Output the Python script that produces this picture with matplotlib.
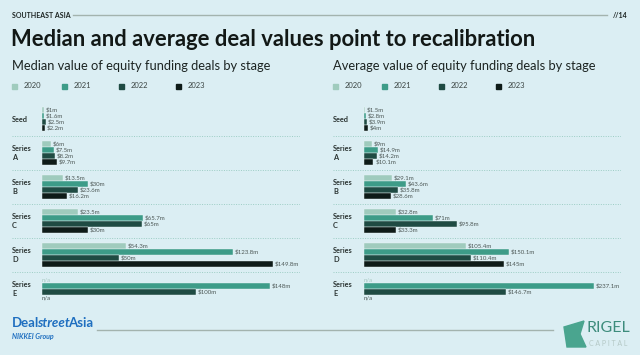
import matplotlib.pyplot as plt
from matplotlib.patches import Rectangle, Polygon

stages = ["Seed", "Series\nA", "Series\nB", "Series\nC", "Series\nD", "Series\nE"]
years = ["2020", "2021", "2022", "2023"]

# median deal value, $m (None = n/a)
median_2020 = [1, 6, 13.5, 23.5, 54.3, None]
median_2021 = [1.6, 7.5, 30, 65.7, 123.8, 148]
median_2022 = [2.5, 8.2, 23.6, 65, 50, 100]
median_2023 = [2.2, 9.7, 16.2, 30, 149.8, None]

# average deal value, $m
avg_2020 = [1.5, 9, 29.1, 32.8, 105.4, None]
avg_2021 = [2.8, 14.9, 43.6, 71, 150.1, 237.1]
avg_2022 = [3.9, 14.2, 35.8, 95.8, 110.4, 146.7]
avg_2023 = [4, 10.1, 28.6, 33.3, 145, None]

colors = ["#9fcbbd", "#3d9c88", "#1f4b43", "#0e1b18"]
bg = "#dbeef3"
W, H = 640, 355

plt.rcParams["font.family"] = ["Lato", "DejaVu Sans"]

fig = plt.figure(figsize=(6.4, 3.55), dpi=100, facecolor=bg)


def px(x, y):
    return x / W, 1 - y / H


def draw_panel(ax, series, xmin, xmax):
    ax.set_xlim(xmin, xmax)
    ax.set_ylim(5.6, -0.6)
    ax.axis("off")
    step = 0.176
    for j, vals in enumerate(series):
        for i, v in enumerate(vals):
            y = i + (j - 1.5) * step
            if v is None:
                c = "#a9c9c2" if j == 0 else "#4d5856"
                ax.text(0, y, "n/a", fontsize=4.4, color=c, va="center", ha="left")
                continue
            ax.barh(y, v, height=0.15, color=colors[j], edgecolor="#eaf5f7", linewidth=0.3)
            ax.annotate(f"${v:g}m", (v, y), xytext=(1.2, 0), textcoords="offset points",
                        fontsize=4.4, color="#4d5856", va="center", ha="left")
    for i, s in enumerate(stages):
        ax.text(xmin, i, s, fontsize=5.3, fontweight="bold", color="#2a3331",
                va="center", ha="left", linespacing=1.3)
    for i in range(len(stages) - 1):
        ax.axhline(i + 0.5, color="#9ccdc4", lw=0.7, ls=(0, (1, 1.5)))


bot = 1 - 309.4 / H
hgt = (309.4 - 98.6) / H
ax1 = fig.add_axes([12 / W, bot, 288 / W, hgt])
ax2 = fig.add_axes([333 / W, bot, 288 / W, hgt])

s1 = 1.54  # px per $m
draw_panel(ax1, [median_2020, median_2021, median_2022, median_2023], -30 / s1, 258 / s1)
s2 = 0.97
draw_panel(ax2, [avg_2020, avg_2021, avg_2022, avg_2023], -30.7 / s2, 257.3 / s2)

# header
fig.text(*px(12, 15), "SOUTHEAST ASIA", fontsize=5, fontweight="bold", color="#1c2422", va="center")
fig.add_artist(plt.Line2D([73 / W, 607 / W], [1 - 15 / H] * 2, color="#a3b3ae", lw=1))
fig.text(*px(613, 15), "//14", fontsize=5, fontweight="bold", color="#1c2422", va="center")
fig.text(*px(11, 40), "Median and average deal values point to recalibration", fontsize=15.8,
         fontweight="bold", color="#121816", va="center")
fig.text(*px(12, 66), "Median value of equity funding deals by stage", fontsize=9.3,
         color="#1c2422", va="center")
fig.text(*px(333, 66), "Average value of equity funding deals by stage", fontsize=9.3,
         color="#1c2422", va="center")

# legends
for x0, offs in [(12, [0, 50, 107, 164]), (333, [0, 49, 106, 163])]:
    for k, (yr, c) in enumerate(zip(years, colors)):
        xs = x0 + offs[k]
        fig.add_artist(Rectangle(px(xs, 89), 5 / W, 5 / H, color=c))
        fig.text(*px(xs + 12, 86), yr, fontsize=5.5, color="#3c4644", va="center")

# footer: DealstreetAsia
blue = "#1f6fc0"
r = fig.canvas.get_renderer()
x = 12
for part, style in [("Deal", "normal"), ("street", "italic"), ("Asia", "normal")]:
    t = fig.text(*px(x, 323), part, fontsize=9.5, fontweight="bold", style=style,
                 color=blue, va="center")
    x += t.get_window_extent(r).width - 2.2
fig.text(*px(12, 336), "NIKKEI Group", fontsize=5, style="italic", fontweight="bold",
         color=blue, va="center")
fig.add_artist(plt.Line2D([97 / W, 553 / W], [1 - 330 / H] * 2, color="#a3b3ae", lw=1))

# footer: Rigel Capital
icon = [(564, 327), (584, 321), (580, 334), (586, 347), (567, 347)]
fig.add_artist(Polygon([px(a, b) for a, b in icon], closed=True, color="#4aa58f"))
fig.text(*px(587, 328), "RIGEL", fontsize=11.5, color="#3d8c7c", va="center")
fig.text(*px(589, 343), "C A P I T A L", fontsize=5, color="#b5c9c6", va="center")

fig.savefig("out.png", dpi=100, facecolor=bg)
